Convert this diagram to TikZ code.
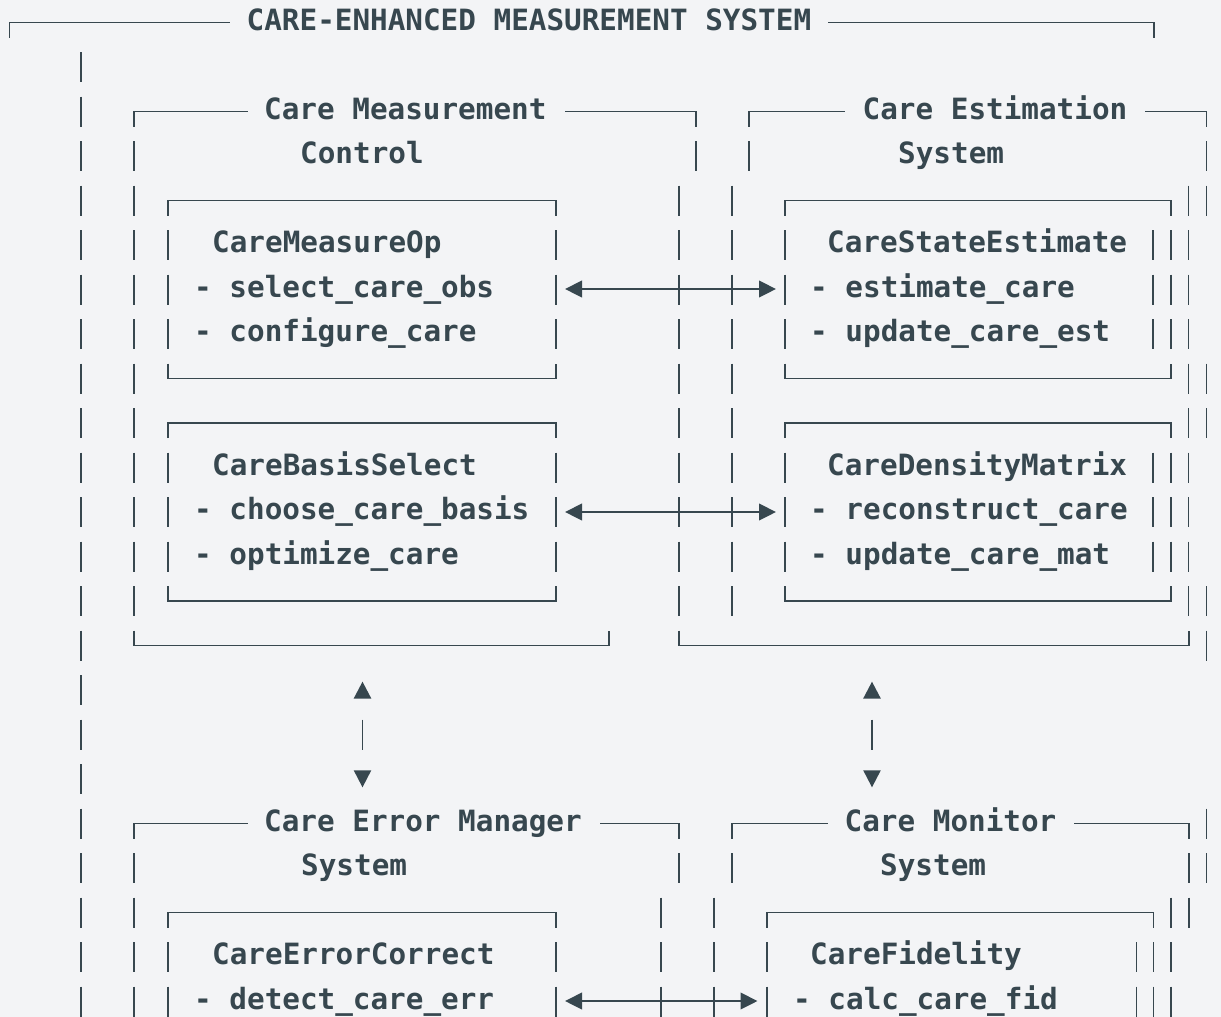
\documentclass[tikz,border=0pt]{standalone}
\usepackage{fontspec}
\setmonofont{DejaVu Sans Mono}
\usetikzlibrary{arrows.meta}
\definecolor{ink}{HTML}{37474F}
\definecolor{bg}{HTML}{F3F4F6}
\tikzset{
  bx/.style={draw=ink, line width=1.8bp, line cap=butt, line join=miter},
  txt/.style={text=ink, inner sep=0pt, anchor=base west,
    font={\fontsize{29.3bp}{35bp}\selectfont\ttfamily\bfseries}},
  biarrow/.style={draw=ink, line width=1.8bp,
    {Triangle[length=17bp,width=16.6bp]}-{Triangle[length=17bp,width=16.6bp]}},
  tri/.style={fill=ink, draw=none}
}
% vertical bar glyph at x=#1 in row #2
\newcommand\vbar[2]{\draw[bx] (#1,{7.5+44.5*#2}) -- (#1,{37.5+44.5*#2});}
% box top edge (corner down) from #1 to #2 in row #3
\newcommand\boxtop[3]{\draw[bx] (#1,{37.5+44.5*#3}) -- (#1,{22.5+44.5*#3}) -- (#2,{22.5+44.5*#3}) -- (#2,{37.5+44.5*#3});}
% box bottom edge (corner up)
\newcommand\boxbot[3]{\draw[bx] (#1,{7.5+44.5*#3}) -- (#1,{22.5+44.5*#3}) -- (#2,{22.5+44.5*#3}) -- (#2,{7.5+44.5*#3});}
% titled top edge: left corner #1, line to #2, resume at #3, right corner #4, row #5
\newcommand\titletop[5]{\draw[bx] (#1,{37.5+44.5*#5}) -- (#1,{22.5+44.5*#5}) -- (#2,{22.5+44.5*#5});
  \draw[bx] (#3,{22.5+44.5*#5}) -- (#4,{22.5+44.5*#5}) -- (#4,{37.5+44.5*#5});}
\begin{document}
\begin{tikzpicture}[x=1bp,y=-1bp]
\fill[bg] (0,0) rectangle (1221,1017);
\useasboundingbox (0,0) rectangle (1221,1017);

% ---- frames ----
\titletop{9.5}{230}{828}{1154}{0}
\titletop{134}{248}{565}{696}{2}
\titletop{749}{845}{1145}{1206.5}{2}
\foreach \r in {4,9}{\boxtop{168}{556}{\r}\boxtop{785}{1171}{\r}}
\foreach \r in {8,13}{\boxbot{168}{556}{\r}\boxbot{785}{1171}{\r}}
\boxbot{134}{609}{14}
\boxbot{679}{1189}{14}
\titletop{134}{248}{600}{679}{18}
\titletop{732}{828}{1074}{1189}{18}
\boxtop{168}{556}{20}
\boxtop{767}{1153.5}{20}

% ---- vertical bars ----
\foreach \r in {1,...,22}{\vbar{81}{\r}}
\foreach \x in {134,696,749,1206.5}{\vbar{\x}{3}}
\foreach \r in {4,...,13}{\vbar{134}{\r}\vbar{679}{\r}\vbar{732}{\r}}
\foreach \r in {4,8,9,13}{\vbar{1188.5}{\r}\vbar{1206.5}{\r}}
\foreach \r in {5,6,7,10,11,12}{\foreach \x in {168,556,785,1153,1171,1188.5}{\vbar{\x}{\r}}}
\vbar{1206.5}{14}
\vbar{362.5}{16}
\vbar{872}{16}
\vbar{1206.5}{18}
\foreach \x in {134,679,732,1189,1206.5}{\vbar{\x}{19}}
\foreach \x in {134,661,714,1171,1189}{\vbar{\x}{20}}
\foreach \r in {21,22}{\foreach \x in {134,168,556,661,714,767,1136.5,1153.5,1171}{\vbar{\x}{\r}}}

% ---- vertical arrow glyphs ----
\foreach \x in {362.5,872}{
  \fill[tri] (\x,681.7) -- ({\x-8.8},698.5) -- ({\x+8.8},698.5) -- cycle;
  \fill[tri] (\x,787.3) -- ({\x-8.8},770.3) -- ({\x+8.8},770.3) -- cycle;
}

% ---- horizontal connectors ----
\coordinate (a1l) at (565,289);
\coordinate (a1r) at (776,289);
\coordinate (a2l) at (565,512);
\coordinate (a2r) at (776,512);
\coordinate (a3l) at (565,1001);
\coordinate (a3r) at (757.5,1001);
\draw[biarrow] (a1l) -- (a1r);
\draw[biarrow] (a2l) -- (a2r);
\draw[biarrow] (a3l) -- (a3r);

% ---- texts ----
\node[txt] (title) at (246.5,30) {CARE-ENHANCED MEASUREMENT SYSTEM};
\node[txt] (cmc1) at (264,119) {Care Measurement};
\node[txt] (cmc2) at (300,163.5) {Control};
\node[txt] (ces1) at (862.5,119) {Care Estimation};
\node[txt] (ces2) at (898,163.5) {System};

\node[txt] (mop0) at (212,252.5) {CareMeasureOp};
\node[txt] (mop1) at (194,297) {- select\_care\_obs};
\node[txt] (mop2) at (194,341.5) {- configure\_care};
\node[txt] (cse0) at (827,252.5) {CareStateEstimate};
\node[txt] (cse1) at (810,297) {- estimate\_care};
\node[txt] (cse2) at (810,341.5) {- update\_care\_est};

\node[txt] (cbs0) at (212,475) {CareBasisSelect};
\node[txt] (cbs1) at (194,519.5) {- choose\_care\_basis};
\node[txt] (cbs2) at (194,564) {- optimize\_care};
\node[txt] (cdm0) at (827,475) {CareDensityMatrix};
\node[txt] (cdm1) at (810,519.5) {- reconstruct\_care};
\node[txt] (cdm2) at (810,564) {- update\_care\_mat};

\node[txt] (cem1) at (264,831) {Care Error Manager};
\node[txt] (cem2) at (301,875.5) {System};
\node[txt] (cms1) at (844.5,831) {Care Monitor};
\node[txt] (cms2) at (880,875.5) {System};

\node[txt] (cec0) at (212,964.5) {CareErrorCorrect};
\node[txt] (cec1) at (194,1009) {- detect\_care\_err};
\node[txt] (cfd0) at (810,964.5) {CareFidelity};
\node[txt] (cfd1) at (793,1009) {- calc\_care\_fid};
\end{tikzpicture}
\end{document}
